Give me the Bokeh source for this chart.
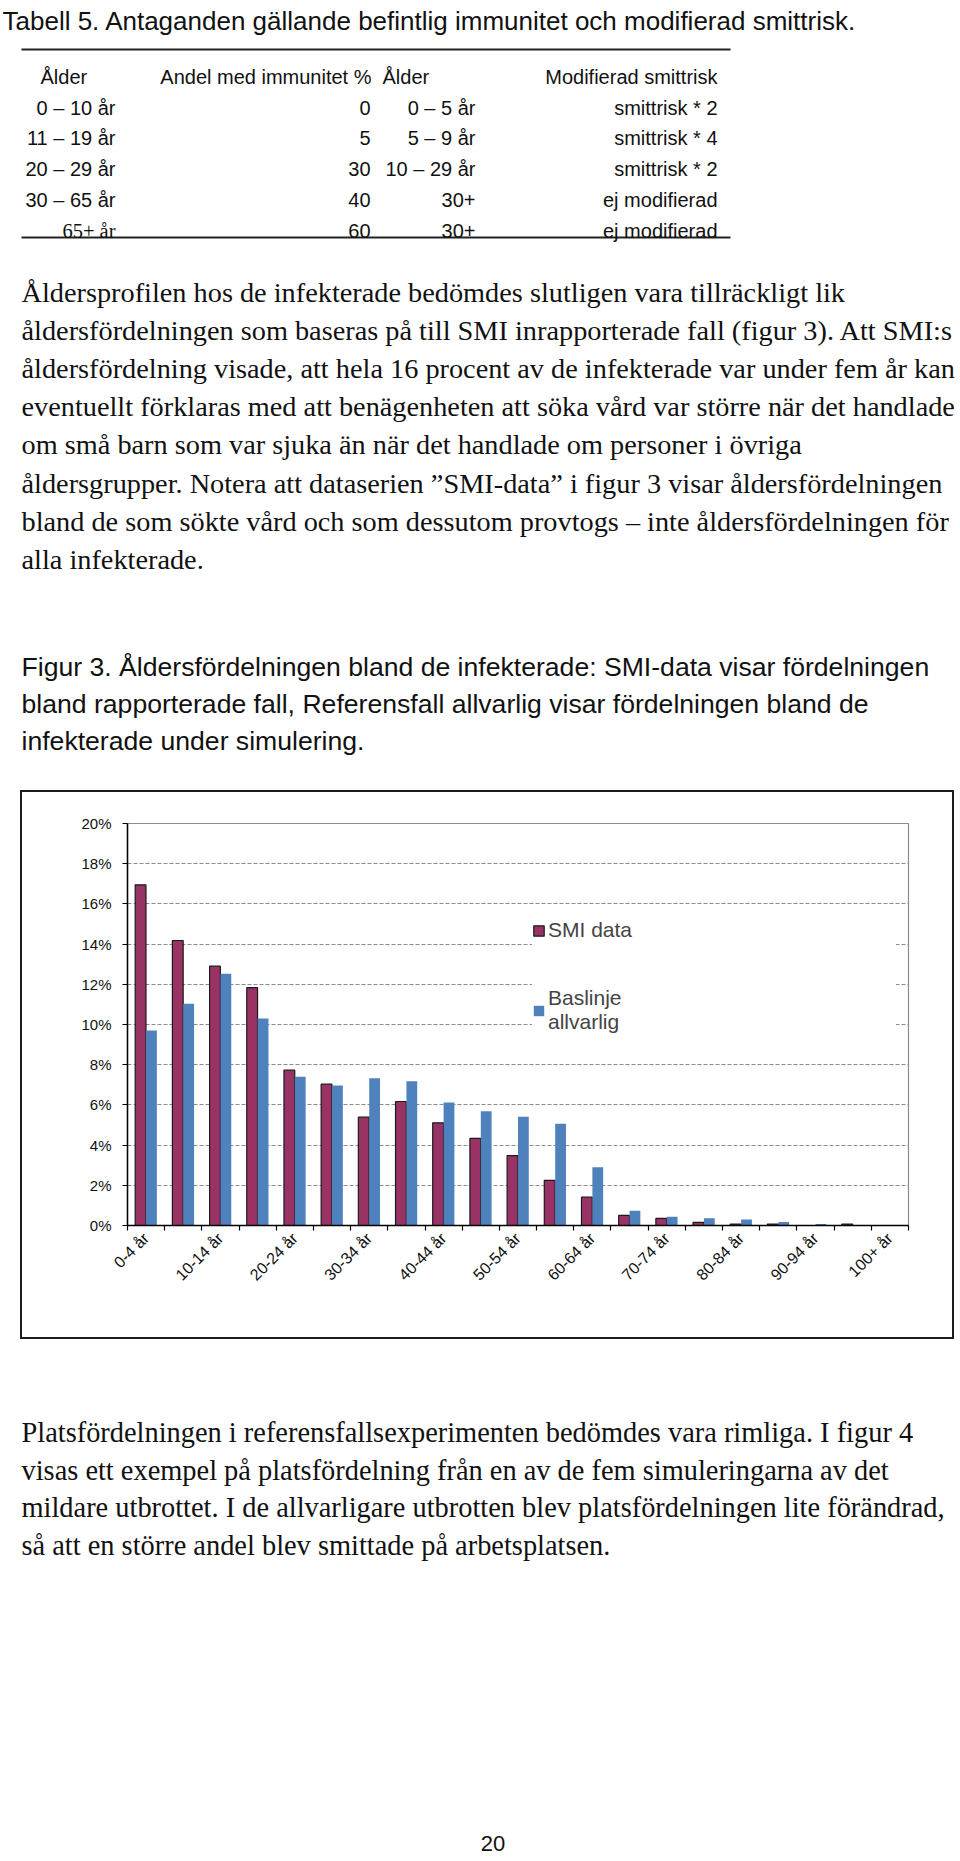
import math
from bokeh.plotting import figure
from bokeh.layouts import column, row
from bokeh.models import (Range1d, LinearAxis, FixedTicker, PrintfTickFormatter, Legend, LegendItem,
                          ColumnDataSource, Grid, Spacer)
from bokeh.transform import dodge
from bokeh.core.properties import value
from bokeh.embed import file_html
from bokeh.resources import INLINE

# ---------------- data ----------------
age_groups = ["0-4 år", "5-9 år", "10-14 år", "15-19 år", "20-24 år", "25-29 år", "30-34 år",
              "35-39 år", "40-44 år", "45-49 år", "50-54 år", "55-59 år", "60-64 år", "65-69 år",
              "70-74 år", "75-79 år", "80-84 år", "85-89 år", "90-94 år", "95-99 år", "100+ år"]
smi_data = [16.95, 14.18, 12.9, 11.83, 7.73, 7.03, 5.39, 6.17, 5.11, 4.33, 3.48, 2.25, 1.41,
            0.5, 0.35, 0.16, 0.07, 0.07, 0.0, 0.07, 0.0]
baslinje_allvarlig = [9.7, 11.03, 12.52, 10.3, 7.4, 6.97, 7.33, 7.18, 6.12, 5.69, 5.41, 5.06, 2.9,
                      0.73, 0.43, 0.36, 0.3, 0.17, 0.08, 0.0, 0.0]
y_ticks = [0, 2, 4, 6, 8, 10, 12, 14, 16, 18, 20]
series_names = ["SMI data", "Baslinje\nallvarlig"]

title_text = "Tabell 5. Antaganden gällande befintlig immunitet och modifierad smittrisk."
table_header = ["Ålder", "Andel med immunitet %", "Ålder", "Modifierad smittrisk"]
table_age1 = ["0 – 10 år", "11 – 19 år", "20 – 29 år", "30 – 65 år", "65+ år"]
table_immunity = ["0", "5", "30", "40", "60"]
table_age2 = ["0 – 5 år", "5 – 9 år", "10 – 29 år", "30+", "30+"]
table_risk = ["smittrisk * 2", "smittrisk * 4", "smittrisk * 2", "ej modifierad", "ej modifierad"]

para1 = [
    "Åldersprofilen hos de infekterade bedömdes slutligen vara tillräckligt lik",
    "åldersfördelningen som baseras på till SMI inrapporterade fall (figur 3). Att SMI:s",
    "åldersfördelning visade, att hela 16 procent av de infekterade var under fem år kan",
    "eventuellt förklaras med att benägenheten att söka vård var större när det handlade",
    "om små barn som var sjuka än när det handlade om personer i övriga",
    "åldersgrupper. Notera att dataserien ”SMI-data” i figur 3 visar åldersfördelningen",
    "bland de som sökte vård och som dessutom provtogs – inte åldersfördelningen för",
    "alla infekterade.",
]
caption = [
    "Figur 3. Åldersfördelningen bland de infekterade: SMI-data visar fördelningen",
    "bland rapporterade fall, Referensfall allvarlig visar fördelningen bland de",
    "infekterade under simulering.",
]
para2 = [
    "Platsfördelningen i referensfallsexperimenten bedömdes vara rimliga. I figur 4",
    "visas ett exempel på platsfördelning från en av de fem simuleringarna av det",
    "mildare utbrottet. I de allvarligare utbrotten blev platsfördelningen lite förändrad,",
    "så att en större andel blev smittade på arbetsplatsen.",
]
page_number = "20"

SANS = "Liberation Sans"
SERIF = "Liberation Serif"
PAGE_W = 960


def page_fig(w, h, y_top, y_bottom):
    p = figure(width=w, height=h, x_range=Range1d(0, w), y_range=Range1d(y_bottom, y_top),
               x_axis_location=None, y_axis_location=None, output_backend="svg",
               toolbar_location=None, min_border=0, min_border_left=0, min_border_right=0,
               min_border_top=0, min_border_bottom=0, frame_align=False)
    p.grid.visible = False
    p.outline_line_color = None
    p.background_fill_color = "white"
    p.border_fill_color = "white"
    return p


def draw_text(p, xs, ys, texts, font, size, align="left"):
    src = ColumnDataSource(dict(x=xs, y=ys, t=texts))
    p.text(x="x", y="y", text="t", source=src, text_font=value(font), text_font_size=size,
           text_align=align, text_baseline="alphabetic", text_color="#111111")


# ---------------- top part of the page ----------------
top = page_fig(PAGE_W, 790, 0, 790)
draw_text(top, [2], [20], [title_text], SANS, "26px")

top.segment(x0=[21, 21], y0=[49, 237], x1=[730, 730], y1=[49, 237], line_color="#222222", line_width=1.8)
TF = "20px"
hdr_base = 76
draw_text(top, [40], [hdr_base], [table_header[0]], SANS, TF)
draw_text(top, [371], [hdr_base], [table_header[1]], SANS, TF, "right")
draw_text(top, [382], [hdr_base], [table_header[2]], SANS, TF)
draw_text(top, [717], [hdr_base], [table_header[3]], SANS, TF, "right")

row_base = [107 + 30.75 * i for i in range(len(table_age1))]
draw_text(top, [115] * 4, row_base[:4], table_age1[:4], SANS, TF, "right")
draw_text(top, [115], row_base[4:], table_age1[4:], SERIF, "20.5px", "right")
draw_text(top, [370] * 5, row_base, table_immunity, SANS, TF, "right")
draw_text(top, [475] * 5, row_base, table_age2, SANS, TF, "right")
draw_text(top, [717] * 5, row_base, table_risk, SANS, TF, "right")

draw_text(top, [21] * len(para1), [292 + 38.1 * i for i in range(len(para1))], para1, SERIF, "28.3px")
draw_text(top, [21] * len(caption), [666 + 37 * i for i in range(len(caption))], caption, SANS, "26.6px")

# ---------------- chart ----------------
n_cat = len(age_groups)
chart = figure(width=934, height=549, x_range=Range1d(0, n_cat), y_range=Range1d(0, 20),
               x_axis_location=None, y_axis_location=None, output_backend="svg", toolbar_location=None,
               min_border_left=105, min_border_right=48, min_border_top=31, min_border_bottom=116,
               frame_align=False, styles={"border": "2px solid #1c1c1c"})
chart.grid.visible = False
chart.outline_line_color = "#8c8c8c"
chart.outline_line_width = 1.2
chart.background_fill_color = "white"
chart.border_fill_color = "white"

chart.add_layout(Grid(dimension=1, ticker=FixedTicker(ticks=y_ticks), grid_line_color="#8c8c8c",
                      grid_line_dash="4 2", grid_line_width=1.2))

centers = [i + 0.5 for i in range(n_cat)]
src = ColumnDataSource(dict(pos=centers, cat=age_groups, smi=smi_data, base=baslinje_allvarlig))
r1 = chart.vbar(x=dodge("pos", -0.148), top="smi", width=0.29, source=src,
                fill_color="#993366", line_color="#1a1a1a", line_width=1.2)
r2 = chart.vbar(x=dodge("pos", 0.145), top="base", width=0.29, source=src,
                fill_color="#4F81BD", line_color=None)

yax = LinearAxis(ticker=FixedTicker(ticks=y_ticks), formatter=PrintfTickFormatter(format="%d%%"),
                 major_tick_in=0, major_tick_out=5, minor_tick_line_color=None,
                 axis_line_color="black", axis_line_width=1.5, major_tick_line_color="black",
                 major_tick_line_width=1.2, major_label_text_font=SANS,
                 major_label_text_font_size="15px", major_label_standoff=11,
                 major_label_text_color="#111111")
chart.add_layout(yax, "left")

xax_ticks = LinearAxis(ticker=FixedTicker(ticks=list(range(n_cat + 1))),
                       major_label_overrides={i: "" for i in range(n_cat + 1)},
                       major_label_text_font_size="0px", major_label_standoff=0,
                       major_tick_in=0, major_tick_out=5, minor_tick_line_color=None,
                       axis_line_color="black", axis_line_width=1.5, major_tick_line_color="black",
                       major_tick_line_width=1.2)
chart.add_layout(xax_ticks, "below")
label_ticks = centers[::2]
xax_lab = LinearAxis(ticker=FixedTicker(ticks=label_ticks),
                     major_label_overrides={c: age_groups[i] for i, c in enumerate(centers) if i % 2 == 0},
                     axis_line_color=None, major_tick_line_color=None, major_tick_out=0,
                     major_tick_in=0, minor_tick_line_color=None, minor_tick_out=0,
                     major_label_orientation=math.pi / 4,
                     major_label_text_font=SANS, major_label_text_font_size="16px",
                     major_label_standoff=5, major_label_text_color="#111111")
chart.add_layout(xax_lab, "below")

legend = Legend(items=[LegendItem(label=series_names[0], renderers=[r1]),
                       LegendItem(label=series_names[1], renderers=[r2])],
                location=(405, 191), padding=12, spacing=44, glyph_width=13, glyph_height=13,
                label_standoff=3, label_text_font=SANS, label_text_font_size="21px",
                label_width=348, border_line_color=None, background_fill_color="white",
                background_fill_alpha=1.0, margin=0)
chart.add_layout(legend)

chart_row = row(Spacer(width=20, height=553), chart, spacing=0)

# ---------------- bottom part of the page ----------------
bottom = page_fig(PAGE_W, 518, 1343, 1861)
draw_text(bottom, [21] * len(para2), [1432 + 37.7 * i for i in range(len(para2))], para2, SERIF, "28.4px")
draw_text(bottom, [492.5], [1843], [page_number], SANS, "22px", "center")

layout = column(top, chart_row, bottom, spacing=0)
open("out.html", "w").write(file_html(layout, INLINE))
